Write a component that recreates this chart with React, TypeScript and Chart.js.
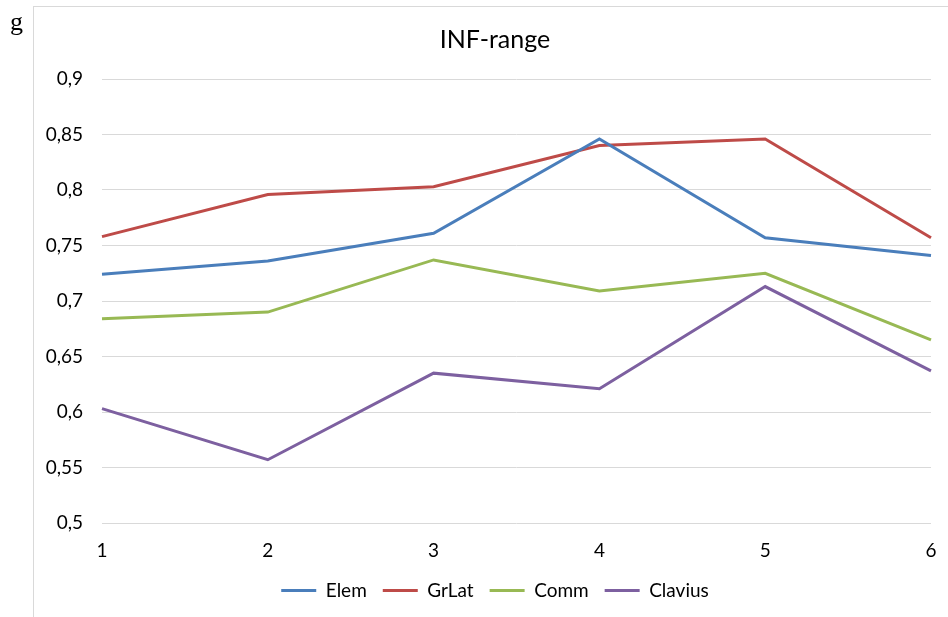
import { useEffect, useRef } from 'react';
import { Chart, registerables } from 'chart.js';

Chart.register(...registerables);

const categories = ['1', '2', '3', '4', '5', '6'];
const elem = [0.724, 0.736, 0.761, 0.846, 0.757, 0.741];
const grLat = [0.758, 0.796, 0.803, 0.840, 0.846, 0.757];
const comm = [0.684, 0.690, 0.737, 0.709, 0.725, 0.665];
const clavius = [0.603, 0.557, 0.635, 0.621, 0.713, 0.637];
const yMin = 0.5;
const yMax = 0.9;
const yStep = 0.05;

const FONT = 'Lato, "Open Sans", sans-serif';

export default function App() {
  const ref = useRef<HTMLCanvasElement>(null);

  useEffect(() => {
    const chart = new Chart(ref.current!, {
      type: 'line',
      data: {
        labels: categories,
        datasets: [
          { label: 'Elem', data: elem, borderColor: '#4A7EBB', backgroundColor: '#4A7EBB' },
          { label: 'GrLat', data: grLat, borderColor: '#BE4B48', backgroundColor: '#BE4B48' },
          { label: 'Comm', data: comm, borderColor: '#98B954', backgroundColor: '#98B954' },
          { label: 'Clavius', data: clavius, borderColor: '#7D60A0', backgroundColor: '#7D60A0' },
        ].map((d) => ({ ...d, borderWidth: 3, pointRadius: 0, tension: 0, fill: false })),
      },
      options: {
        responsive: false,
        animation: false,
        devicePixelRatio: 1,
        layout: { padding: { left: 25, right: 17, top: 0, bottom: 7 } },
        plugins: {
          title: {
            display: true,
            text: 'INF-range',
            color: '#000',
            font: { family: FONT, size: 25, weight: 'normal' },
            padding: { top: 18, bottom: 24 },
          },
          legend: {
            position: 'bottom',
            labels: {
              usePointStyle: true,
              pointStyle: 'line',
              pointStyleWidth: 35,
              color: '#000',
              font: { family: FONT, size: 19 },
              padding: 16,
            },
          },
          tooltip: { enabled: false },
        },
        scales: {
          x: {
            type: 'category',
            offset: false,
            grid: { display: false, drawTicks: false },
            border: { display: false },
            ticks: { color: '#000', font: { family: FONT, size: 19 }, padding: 16, maxRotation: 0 },
            afterFit: (s: any) => {
              s.height = 42;
              s.paddingLeft = 0;
              s.paddingRight = 0;
            },
          },
          y: {
            min: yMin,
            max: yMax,
            grid: { color: '#d9d9d9', lineWidth: 1, drawTicks: false },
            border: { display: false },
            ticks: {
              stepSize: yStep,
              color: '#000',
              font: { family: FONT, size: 19 },
              padding: 19,
              callback: (v: any) => String(Math.round(Number(v) * 100) / 100).replace('.', ','),
            },
            afterFit: (s: any) => {
              s.width = 43;
              s._computeLabelArea = () => undefined;
            },
          },
        },
      },
    });
    return () => chart.destroy();
  }, []);

  return (
    <>
      <div style={{ position: 'fixed', left: 10, top: 7, fontFamily: '"Liberation Serif", serif', fontSize: 26, color: '#000' }}>g</div>
      <div
        style={{
          position: 'fixed',
          left: 33,
          top: 6,
          width: 915,
          height: 611,
          borderLeft: '1px solid #d9d9d9',
          borderTop: '1px solid #d9d9d9',
          boxSizing: 'border-box',
          background: '#fff',
        }}
      >
        <canvas ref={ref} width={914} height={610} style={{ display: 'block', width: 914, height: 610 }} />
      </div>
    </>
  );
}
